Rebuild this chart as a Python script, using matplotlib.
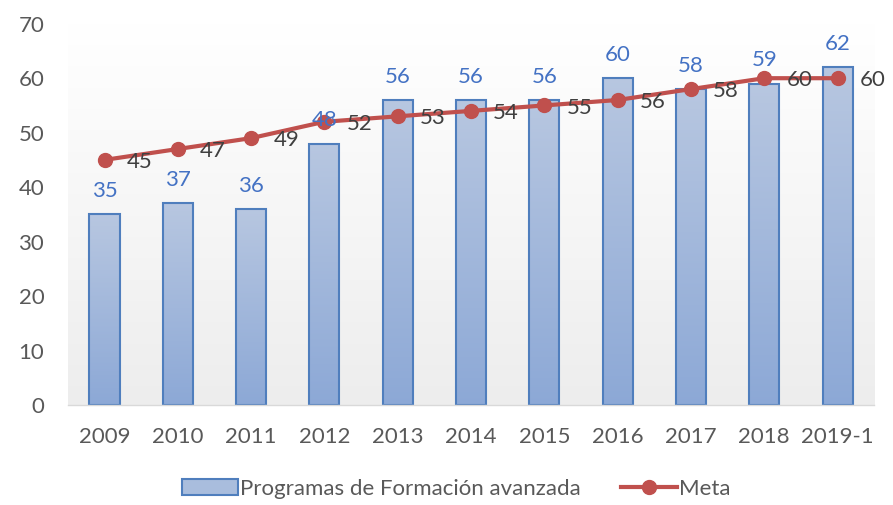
import matplotlib
matplotlib.use("Agg")
import matplotlib.pyplot as plt
import numpy as np
from matplotlib.patches import Patch
from matplotlib.lines import Line2D

categories = ["2009", "2010", "2011", "2012", "2013", "2014", "2015", "2016", "2017", "2018", "2019-1"]
programas = [35, 37, 36, 48, 56, 56, 56, 60, 58, 59, 62]
meta = [45, 47, 49, 52, 53, 54, 55, 56, 58, 60, 60]
yticks = [0, 10, 20, 30, 40, 50, 60, 70]

plt.rcParams['font.family'] = ['Lato', 'DejaVu Sans']
FS = 16

fig = plt.figure(figsize=(8.93, 5.05), dpi=100)
ax = fig.add_axes([0.076, 0.198, 0.903, 0.755])

x = np.arange(len(categories))
ax.set_xlim(-0.5, len(categories) - 0.5)
ax.set_ylim(0, 70)

# background gradient of plot area
bg = np.linspace(1.0, 0.93, 256).reshape(-1, 1)
bg_rgb = np.dstack([bg, bg, bg])
ax.imshow(bg_rgb, extent=[-0.5, len(categories) - 0.5, 0, 70], aspect='auto', zorder=0, origin='upper')

bars = ax.bar(x, programas, width=0.41, color='none', edgecolor='#4F7EBD', linewidth=1.5, zorder=2)
top_c = np.array([0.72, 0.78, 0.88])
bot_c = np.array([0.55, 0.66, 0.84])
grad = np.linspace(0, 1, 256).reshape(-1, 1, 1)
grad_img = top_c * (1 - grad) + bot_c * grad
for b in bars:
    im = ax.imshow(grad_img, extent=[b.get_x(), b.get_x() + b.get_width(), 0, b.get_height()],
                   aspect='auto', zorder=1.5, origin='upper')
    im.set_clip_path(b)

for xi, v in zip(x, programas):
    ax.annotate(str(v), (xi, v), xytext=(0, 9.5), textcoords='offset points',
                ha='center', va='bottom', color='#4472C4', fontsize=FS, zorder=5)

ax.plot(x, meta, color='#C0504D', linewidth=3, marker='o', markersize=10, zorder=3)
for xi, v in zip(x, meta):
    ax.annotate(str(v), (xi, v), xytext=(16, -1.5), textcoords='offset points',
                ha='left', va='center', color='#404040', fontsize=FS, zorder=5)

ax.set_xticks(x)
ax.set_xticklabels(categories)
ax.set_yticks(yticks)
ax.tick_params(axis='both', length=0, labelsize=FS, colors='#595959')
ax.tick_params(axis='x', pad=16)
ax.tick_params(axis='y', pad=17)
for s in ['top', 'right', 'left']:
    ax.spines[s].set_visible(False)
ax.spines['bottom'].set_color('#D9D9D9')
ax.spines['bottom'].set_linewidth(1)

handles = [Patch(facecolor='#A9BDDD', edgecolor='#4F7EBD', linewidth=1.5),
           Line2D([0], [0], color='#C0504D', linewidth=3, marker='o', markersize=10)]
leg = fig.legend(handles, ['Programas de Formación avanzada', 'Meta'], loc='center',
                 bbox_to_anchor=(0.511, 0.032), ncol=2, frameon=False, fontsize=FS,
                 handlelength=2.5, handletextpad=0.1, columnspacing=1.8)
for t in leg.get_texts():
    t.set_color('#595959')

fig.savefig('out.png', dpi=100)
